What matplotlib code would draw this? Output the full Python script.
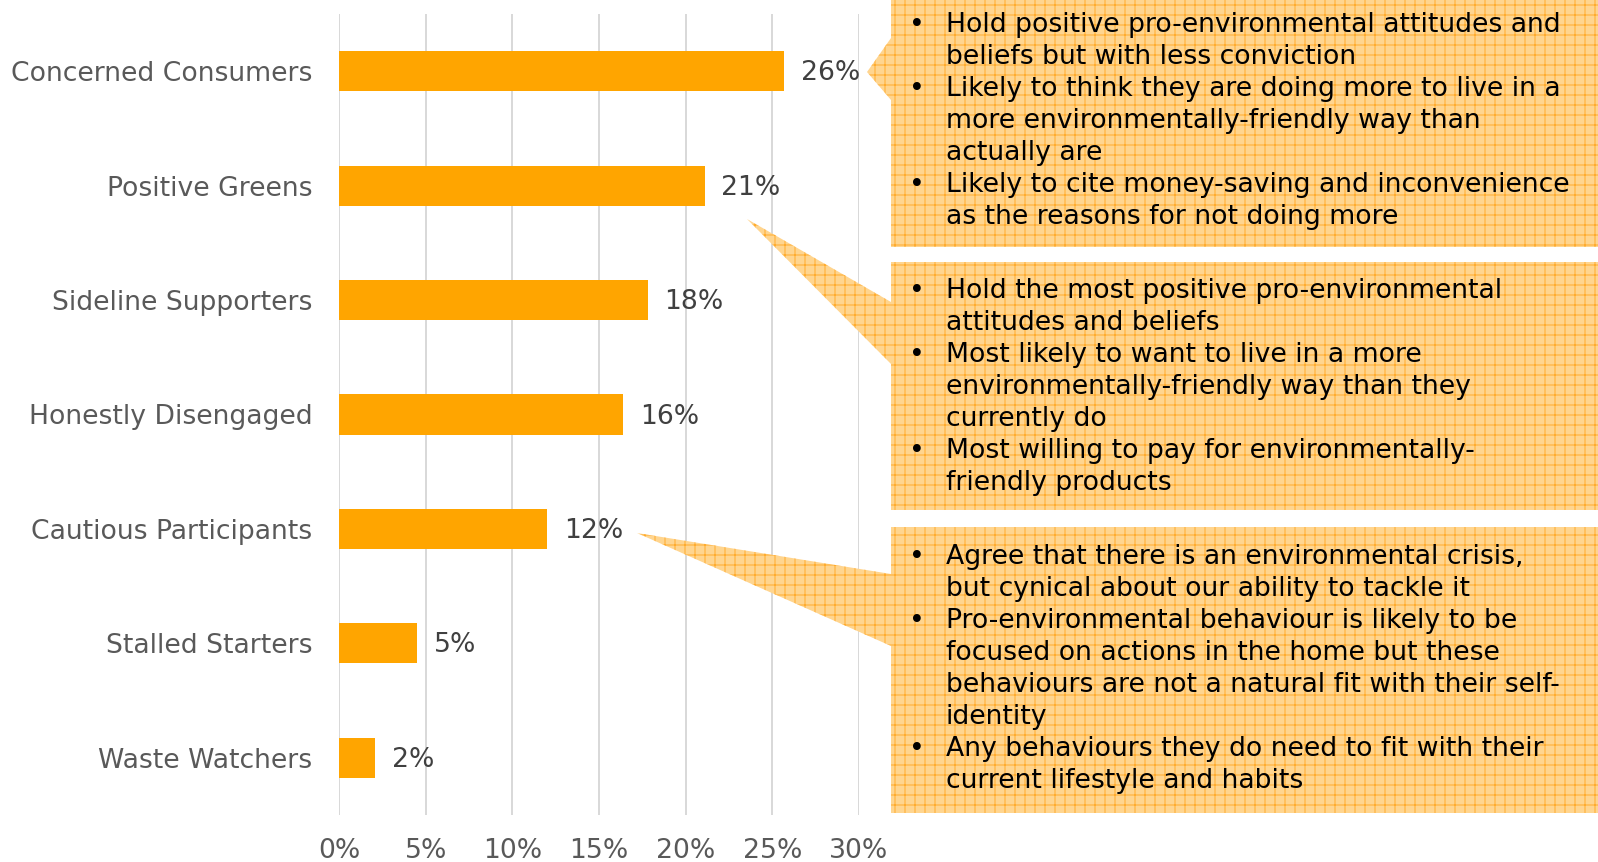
import matplotlib

matplotlib.use("Agg")
import matplotlib.pyplot as plt
from matplotlib.patches import Polygon
from matplotlib.ticker import PercentFormatter

# segment shares
segments = [
    "Concerned Consumers",
    "Positive Greens",
    "Sideline Supporters",
    "Honestly Disengaged",
    "Cautious Participants",
    "Stalled Starters",
    "Waste Watchers",
]
shares = [0.257, 0.211, 0.178, 0.164, 0.120, 0.045, 0.021]
share_labels = ["26%", "21%", "18%", "16%", "12%", "5%", "2%"]
x_ticks = [0.0, 0.05, 0.10, 0.15, 0.20, 0.25, 0.30]

callout_concerned = [
    (True, "Hold positive pro-environmental attitudes and"),
    (False, "beliefs but with less conviction"),
    (True, "Likely to think they are doing more to live in a"),
    (False, "more environmentally-friendly way than"),
    (False, "actually are"),
    (True, "Likely to cite money-saving and inconvenience"),
    (False, "as the reasons for not doing more"),
]
callout_positive = [
    (True, "Hold the most positive pro-environmental"),
    (False, "attitudes and beliefs"),
    (True, "Most likely to want to live in a more"),
    (False, "environmentally-friendly way than they"),
    (False, "currently do"),
    (True, "Most willing to pay for environmentally-"),
    (False, "friendly products"),
]
callout_cautious = [
    (True, "Agree that there is an environmental crisis,"),
    (False, "but cynical about our ability to tackle it"),
    (True, "Pro-environmental behaviour is likely to be"),
    (False, "focused on actions in the home but these"),
    (False, "behaviours are not a natural fit with their self-"),
    (False, "identity"),
    (True, "Any behaviours they do need to fit with their"),
    (False, "current lifestyle and habits"),
]

W, H, DPI = 1598, 862, 120
BAR = "#FFA500"
FONT = "DejaVu Sans"
FS = 16

plt.rcParams["font.family"] = FONT
plt.rcParams["hatch.linewidth"] = 0.6

fig = plt.figure(figsize=(W / DPI, H / DPI), dpi=DPI)
ax = fig.add_axes([339 / W, 1 - 815 / H, (859 - 339) / W, (815 - 14) / H])

ypos = list(range(len(segments)))
ax.barh(ypos, shares, height=0.35, color=BAR, zorder=3)
for y, v, lab in zip(ypos, shares, share_labels):
    ax.annotate(lab, (v, y), xytext=(10, -1.2), textcoords="offset points",
                va="center", ha="left", fontsize=FS, color="#404040")

ax.set_xlim(0, 0.30)
ax.set_ylim(len(segments) - 0.5, -0.5)
ax.set_yticks(ypos)
ax.set_yticklabels(segments)
ax.set_xticks(x_ticks)
ax.xaxis.set_major_formatter(PercentFormatter(xmax=1, decimals=0))
ax.tick_params(axis="y", length=0, pad=16, labelsize=FS, labelcolor="#595959")
ax.tick_params(axis="x", length=0, pad=14, labelsize=FS, labelcolor="#595959")
ax.grid(axis="x", color="#D9D9D9", linewidth=1.2, zorder=0)
for s in ax.spines.values():
    s.set_visible(False)

# overlay in pixel coordinates for the callout boxes
ov = fig.add_axes([0, 0, 1, 1], zorder=5)
ov.set_xlim(0, W)
ov.set_ylim(H, 0)
ov.axis("off")
ov.patch.set_alpha(0)

BOX_L, BOX_R = 891, W
boxes = [
    # top, bottom, pointer top, pointer tip, pointer bottom, lines, first line y
    (0, 247, 38, (867, 72), 100, callout_concerned, 25.5),
    (262, 510, 302, (747, 219), 364, callout_positive, 290.5),
    (527, 813, 574, (637, 533), 646, callout_cautious, 556.5),
]
for top, bot, ptop, tip, pbot, lines, y0 in boxes:
    verts = [(BOX_L, top), (BOX_R, top), (BOX_R, bot), (BOX_L, bot),
             (BOX_L, pbot), tip, (BOX_L, ptop)]
    ov.add_patch(Polygon(verts, closed=True, facecolor="#FFD58F",
                         edgecolor="#FFAC2E", linewidth=0, hatch="++"))
    for i, (bullet, txt) in enumerate(lines):
        y = y0 + i * 32.0
        if bullet:
            ov.text(909, y, "\u2022", fontsize=FS, color="black", va="center", ha="left")
        ov.text(946, y, txt, fontsize=FS, color="black", va="center", ha="left")

fig.savefig("out.png", dpi=DPI)
